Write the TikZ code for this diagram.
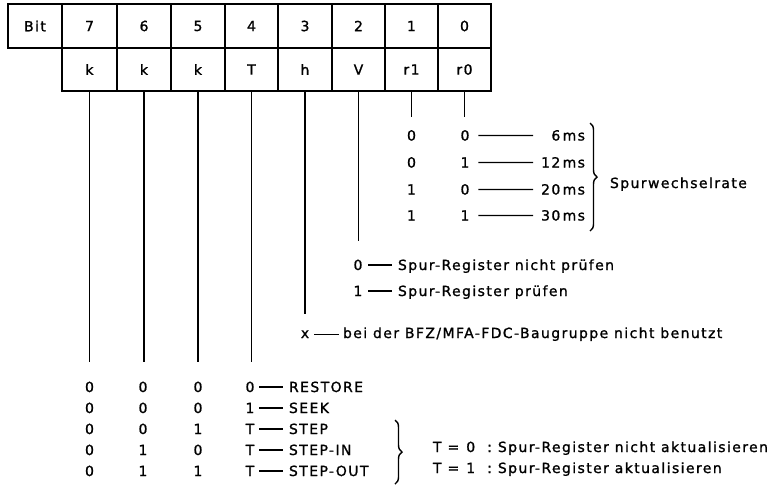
\documentclass[tikz,border=0pt]{standalone}
\usepackage{fontspec}
\setmainfont{DejaVu Sans}[LetterSpace=10, FakeBold=1.2]
\usetikzlibrary{decorations.pathreplacing}
\begin{document}
\begin{tikzpicture}[x=1pt,y=-1pt,
  every node/.style={font=\fontsize{14}{16}\selectfont, inner sep=0pt, outer sep=0pt},
  cell/.style={draw, line width=1.8pt, minimum height=44pt},
  lowcell/.style={draw, line width=1.8pt, minimum height=43pt},
  lead/.style={line width=1.4pt},
  dashl/.style={line width=1.3pt},
  curly/.style={decorate, decoration={brace, amplitude=7pt}, line width=1.4pt}]
\useasboundingbox (0,0) rectangle (781,491);
% table, top row
\node[cell, minimum width=54pt] (bit) at (35,26) {Bit};
\node[cell, minimum width=55pt] (b7) at (89.5,26) {7};
\node[cell, minimum width=54pt] (b6) at (144,26) {6};
\node[cell, minimum width=54pt] (b5) at (198,26) {5};
\node[cell, minimum width=53pt] (b4) at (251.5,26) {4};
\node[cell, minimum width=54pt] (b3) at (305,26) {3};
\node[cell, minimum width=53pt] (b2) at (358.5,26) {2};
\node[cell, minimum width=53pt] (b1) at (411.5,26) {1};
\node[cell, minimum width=53pt] (b0) at (464.5,26) {0};
% table, bottom row
\node[lowcell, minimum width=55pt] (r7) at (89.5,69.5) {k};
\node[lowcell, minimum width=54pt] (r6) at (144,69.5) {k};
\node[lowcell, minimum width=54pt] (r5) at (198,69.5) {k};
\node[lowcell, minimum width=53pt] (r4) at (251.5,69.5) {T};
\node[lowcell, minimum width=54pt] (r3) at (305,69.5) {h};
\node[lowcell, minimum width=53pt] (r2) at (358.5,69.5) {V};
\node[lowcell, minimum width=53pt] (r1) at (411.5,69.5) {r1};
\node[lowcell, minimum width=53pt] (r0) at (464.5,69.5) {r0};
% leader ends
\coordinate (e1) at (411.5,117);
\coordinate (e0) at (464.5,117);
\coordinate (e2) at (358.5,241);
\coordinate (e3) at (305,314);
\coordinate (e7) at (89.5,362);
\coordinate (e6) at (144,362);
\coordinate (e5) at (198,362);
\coordinate (e4) at (251.5,362);
\foreach \i in {0,...,7} \draw[lead] (r\i.south) -- (e\i);
% step rate
\foreach \y/\a/\b/\t [count=\n] in {135.5/0/0/6, 162.5/0/1/12, 189.5/1/0/20, 215.5/1/1/30}{
  \node[anchor=base] (ra\n) at (411.5,\y+5) {\a};
  \node[anchor=base] (rb\n) at (465,\y+5) {\b};
  \node[anchor=base east] (ms\n) at (585,\y+5) {\t\,ms};
  \coordinate (m\n) at (533,\y);
  \draw[dashl] ([xshift=9pt]rb\n.east) -- (m\n);
}
\draw[curly] (590,123) -- (590,231);
\node[anchor=base west] (rate) at (610,188) {Spurwechselrate};
% verify
\node[anchor=base] (v0) at (358,270) {0};
\node[anchor=base west] (v0t) at (398,270) {Spur-Register nicht prüfen};
\draw[dashl] ([xshift=6pt]v0.east) -- ([xshift=-6pt]v0t.west |- v0.east);
\node[anchor=base] (v1) at (358,296) {1};
\node[anchor=base west] (v1t) at (398,296) {Spur-Register prüfen};
\draw[dashl] ([xshift=6pt]v1.east) -- ([xshift=-6pt]v1t.west |- v1.east);
% h
\node[anchor=base] (hx) at (305,338) {x};
\node[anchor=base west] (hxt) at (343,338) {bei der BFZ/MFA-FDC-Baugruppe nicht benutzt};
\draw[dashl] ([xshift=5pt]hx.east) -- ([xshift=-4pt]hxt.west |- hx.east);
% commands
\foreach \y/\a/\b/\c/\d/\t [count=\n] in {387/0/0/0/0/RESTORE, 408/0/0/0/1/SEEK, 429/0/0/1/T/STEP, 450/0/1/0/T/STEP-IN, 471/0/1/1/T/STEP-OUT}{
  \node[anchor=base] (c7\n) at (89.5,\y+5) {\a};
  \node[anchor=base] (c6\n) at (143,\y+5) {\b};
  \node[anchor=base] (c5\n) at (198,\y+5) {\c};
  \node[anchor=base] (c4\n) at (250,\y+5) {\d};
  \node[anchor=base west] (ct\n) at (289,\y+5) {\t};
  \draw[dashl] ([xshift=5pt]c4\n.east) -- ([xshift=-6pt]ct\n.west |- c4\n.east);
}
\draw[curly] (395,420) -- (395,484);
\node[anchor=base west] (t0) at (433,452) {T\hspace{6pt}=\hspace{7pt}0\hspace{12pt}:\hspace{6pt}Spur-Register nicht aktualisieren};
\node[anchor=base west] (t1) at (433,473) {T\hspace{6pt}=\hspace{7pt}1\hspace{12pt}:\hspace{6pt}Spur-Register aktualisieren};
\end{tikzpicture}
\end{document}
